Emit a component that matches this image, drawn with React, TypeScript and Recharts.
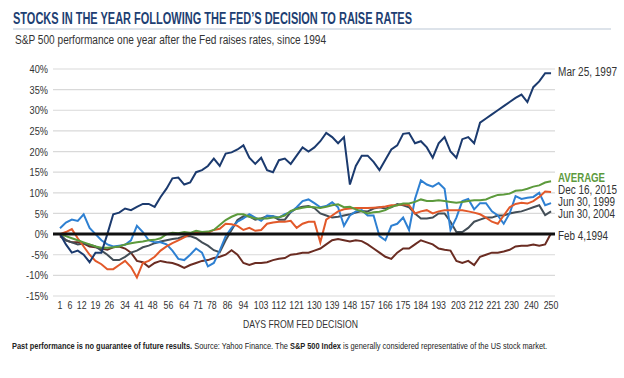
import { useLayoutEffect, useRef, useState } from 'react';
import { LineChart, Line, XAxis, YAxis, CartesianGrid, ReferenceLine } from 'recharts';

// trading days after the hike (sampled every 3 days)
const days = [1, 4, 7, 10, 13, 16, 19, 22, 25, 28, 31, 34, 37, 40, 43, 46, 49, 52, 55, 58, 61, 64, 67, 70, 73, 76, 79, 82, 85, 88, 91, 94, 97, 100, 103, 106, 109, 112, 115, 118, 121, 124, 127, 130, 133, 136, 139, 142, 145, 148, 151, 154, 157, 160, 163, 166, 169, 172, 175, 178, 181, 184, 187, 190, 193, 196, 199, 202, 205, 208, 211, 214, 217, 220, 223, 226, 229, 232, 235, 238, 241, 244, 247, 250];

const mar1997 = [0, -2.5, -4.5, -4, -5, -6.8, -4.5, -4.5, 0, 4.8, 5.2, 6.2, 5.8, 6.6, 7.3, 7.3, 6.6, 9, 11, 13.5, 13.7, 12, 12.5, 15, 15.5, 16.5, 18.3, 16.5, 19.5, 19.8, 20.5, 21.5, 18.5, 17, 18.5, 15.5, 15, 17.9, 18.3, 17, 19, 21, 20, 21, 22.5, 24.5, 23.5, 22, 23.5, 12, 16.5, 19, 19, 17.5, 15.5, 18, 20.5, 21.5, 24.3, 24.5, 22, 22.5, 21, 18.5, 22, 23.5, 20, 18.5, 23, 23.5, 22, 27, 28, 29, 30, 31, 32, 33, 33.8, 32, 35.6, 37, 39, 39];
const average = [0, -0.5, -1, -1.5, -2, -2.5, -3, -3.3, -3.3, -3.2, -3, -2.5, -2.2, -2, -1.8, -1.5, -1.4, -1, 0, 0.3, 0.2, 0.5, 0.3, 0.8, 0.5, 0.6, 1, 2.2, 3.4, 4.2, 4.8, 4.8, 4.2, 3.8, 3.8, 3.8, 4, 4.1, 4.5, 5.6, 6.1, 6.4, 6.6, 6.5, 6.3, 6.6, 7, 7.2, 6.5, 6.6, 6, 5.5, 5, 5.3, 5.4, 5.8, 6.6, 7, 7.4, 7.4, 7.8, 8.4, 8, 8, 8.2, 8, 7.8, 7.6, 7.8, 8, 8.2, 8.2, 8.4, 9, 9.5, 9.6, 9.8, 10.5, 10.6, 11, 11.5, 11.8, 12.5, 12.8];
const dec2015 = [0, 0.5, 1.2, -1, -3, -5, -6.5, -7.3, -8.5, -8.5, -7.5, -6.5, -8, -10.5, -7, -6.5, -5.5, -4, -3, -2.2, -1.5, -0.8, 0, 0.5, 0.5, 0.3, 1, 1.3, 2.5, 2.4, 2, 1, 1.5, 0.8, 1, 2.5, 2.8, 3, 3, 3.2, 1.5, 2.5, 3, 3, -2, 3.5, 4.5, 5.5, 6, 6.2, 6.3, 6.3, 6.3, 6.4, 6.5, 6.7, 7, 7, 7.2, 7, 5, 5.5, 5.8, 5, 5.5, 5.8, 5.8, 5.8, 5.8, 5.5, 5.2, 4.8, 4, 3, 2.5, 4.5, 6.5, 7.3, 7.6, 7.4, 8, 9, 10.3, 10.2];
const jun1999 = [1.4, 2.8, 3.5, 3.2, 4.8, 1.5, 0, -1.5, -2.5, -3, -2.8, -2.6, -1.5, 2, 0.5, -1.5, -2, -2, -2.5, -4, -6, -6.3, -5, -3.5, -4.5, -7.8, -7, -4, -0.5, 1.5, 3, 3.8, 4.8, 4, 3.2, 4.5, 4.3, 4, 4.8, 5.3, 6.5, 8, 8.4, 7.5, 6.5, 6.8, 7.7, 6.5, 2, 4.5, 5.5, 5.8, 4.5, 4.5, -0.5, -1.5, 2, 2.5, 4, 1, 8.5, 13, 12, 11.5, 12.4, 11, 1, 4, 8, 8.5, 6, 7.5, 7.5, 5.5, 4.5, 2.5, 5, 9.2, 8.5, 8.8, 9, 10, 7, 7.5];
const jun2004 = [0, -1.5, -2, -2.5, -2.3, -2.6, -3, -4, -5, -6.3, -6.3, -5.5, -4.5, -4, -3.2, -2.8, -2.2, -1.8, -1.5, -1.2, -1, -0.5, -0.5, -1, -2, -2.8, -3.9, -4.4, -1.5, 1, 3.4, 4.3, 4.3, 3.5, 3.8, 4.3, 4.3, 3.5, 3.5, 5.3, 6.3, 6.6, 6.8, 6.3, 5, 4.5, 4, 4.2, 4.5, 4.8, 5.2, 5.6, 5.5, 6.2, 6.5, 6.2, 6.5, 7.3, 7, 6.5, 5, 3.8, 3.8, 4, 5, 5, 3, 0.5, 0.5, 1.5, 3, 3.5, 4, 4, 4.5, 4.5, 5, 5.3, 5.5, 6, 6.5, 7, 4.6, 5.5];
const feb1994 = [-0.5, -1.5, -2, -2, -2.3, -3, -3.2, -3.5, -3.8, -3.2, -3, -3.5, -4.5, -6.5, -6.8, -8, -7, -6.5, -6.8, -7, -7.5, -8.2, -7.5, -7, -6.5, -6.3, -5.8, -5.5, -5, -3.9, -5, -7, -7.5, -7, -7, -6.8, -6.3, -6, -5.8, -5, -4.8, -4.5, -4.5, -4, -3.5, -2.5, -1.5, -1.2, -1.5, -1.8, -1.5, -1.7, -2.5, -3.5, -4.5, -5.5, -6, -4.5, -3.5, -3.5, -2.5, -1.5, -2, -2.5, -3.5, -3.8, -4, -6.5, -7, -6.5, -7.5, -5.5, -5, -4.5, -4.5, -4.2, -3.8, -3, -2.8, -2.8, -2.5, -2.8, -2.5, 0.2];

const xTicks = [1, 6, 12, 19, 26, 34, 41, 48, 56, 64, 71, 78, 86, 94, 103, 112, 121, 130, 139, 148, 157, 166, 175, 184, 193, 203, 212, 221, 230, 240, 250];
const yTicks = [-15, -10, -5, 0, 5, 10, 15, 20, 25, 30, 35, 40];

const rows = days.map((day, i) => ({
  day,
  mar1997: mar1997[i],
  average: average[i],
  dec2015: dec2015[i],
  jun1999: jun1999[i],
  jun2004: jun2004[i],
  feb1994: feb1994[i],
}));

const FONT = "'Liberation Sans', Arial, sans-serif";

const series = [
  { key: 'feb1994', name: 'Feb 4,1994', color: '#6a2c22', dy: 3, bold: false, len: 50 },
  { key: 'jun2004', name: 'Jun 30, 2004', color: '#434e57', dy: 2, bold: false, len: 57 },
  { key: 'jun1999', name: 'Jun 30, 1999', color: '#2e80d2', dy: -1, bold: false, len: 57 },
  { key: 'dec2015', name: 'Dec 16, 2015', color: '#e2592a', dy: -2, bold: false, len: 59 },
  { key: 'average', name: 'AVERAGE', color: '#5c9a3c', dy: -3, bold: true, len: 47 },
  { key: 'mar1997', name: 'Mar 25, 1997', color: '#1b3a6e', dy: -1, bold: false, len: 59 },
];

const endLabel = (s: typeof series[number]) => (props: any) => {
  const { cx, cy, index } = props;
  if (index !== days.length - 1) return <g key={`d-${s.key}-${index}`} />;
  return (
    <text
      key={`d-${s.key}-${index}`}
      x={cx + 7}
      y={cy + s.dy}
      dy="0.35em"
      fontFamily={FONT}
      fontSize={12}
      fontWeight={s.bold ? 700 : 400}
      fill={s.bold ? s.color : '#333'}
      textLength={s.len}
      lengthAdjust="spacingAndGlyphs"
    >
      {s.name}
    </text>
  );
};

// narrow tick labels like the original condensed font
const XTick = (props: any) => {
  const { x, y, payload } = props;
  const label = String(payload.value);
  return (
    <text x={x} y={y} dy="0.71em" textAnchor="middle" fontFamily={FONT} fontSize={10.5} fill="#333"
      textLength={label.length * 4.9} lengthAdjust="spacingAndGlyphs">
      {label}
    </text>
  );
};

const YTick = (props: any) => {
  const { x, y, payload } = props;
  const label = `${payload.value}%`;
  let len = 0;
  for (const c of label) len += c === '%' ? 8 : c === '-' ? 3.5 : 5.2;
  return (
    <text x={x} y={y} dy="0.355em" textAnchor="end" fontFamily={FONT} fontSize={11.5} fill="#333"
      textLength={len} lengthAdjust="spacingAndGlyphs">
      {label}
    </text>
  );
};

// squeezes one line of html text to a given width (the source uses a condensed face)
function FitLine({ width, left, top, fontSize, children }: any) {
  const ref = useRef<HTMLDivElement>(null);
  const [k, setK] = useState(1);
  useLayoutEffect(() => {
    if (ref.current) setK(width / ref.current.scrollWidth);
  }, [width]);
  return (
    <div
      ref={ref}
      style={{
        position: 'absolute', left, top, width: 'max-content', whiteSpace: 'nowrap',
        fontFamily: FONT, fontSize, lineHeight: 1, color: '#222',
        transform: `scaleX(${k})`, transformOrigin: 'left top',
      }}
    >
      {children}
    </div>
  );
}

export default function App() {
  return (
    <div style={{ position: 'absolute', left: 0, top: 0, width: 624, height: 378, background: '#fff' }}>
      <LineChart width={624} height={378} data={rows} margin={{ top: 69, right: 69, bottom: 52, left: 0 }}>
        <CartesianGrid vertical={false} stroke="#d9d9d9" strokeWidth={1.2} />
        <XAxis
          dataKey="day"
          type="number"
          domain={[-2.55, 252]}
          ticks={xTicks}
          interval={0}
          axisLine={false}
          tickLine={false}
          tickSize={0}
          tickMargin={6}
          height={30}
          tick={<XTick />}
        />
        <YAxis
          type="number"
          domain={[-15, 40]}
          ticks={yTicks}
          interval={0}
          width={53}
          axisLine={false}
          tickLine={false}
          tickSize={0}
          tickMargin={5}
          tick={<YTick />}
        />
        {series.map((s) => (
          <Line
            key={s.key}
            dataKey={s.key}
            type="linear"
            stroke={s.color}
            strokeWidth={2}
            dot={endLabel(s)}
            activeDot={false}
            isAnimationActive={false}
          />
        ))}
        <ReferenceLine y={0} stroke="#111" strokeWidth={3} />
      </LineChart>
      <svg width={624} height={378} style={{ position: 'absolute', left: 0, top: 0, pointerEvents: 'none' }}>
        <text x={13} y={23.5} fontFamily={FONT} fontSize={16} fontWeight={700} fill="#1e3f73" textLength={399} lengthAdjust="spacingAndGlyphs">
          STOCKS IN THE YEAR FOLLOWING THE FED’S DECISION TO RAISE RATES
        </text>
        <line x1={13} x2={611} y1={29} y2={29} stroke="#dde3ea" strokeWidth={2} />
        <text x={15} y={44} fontFamily={FONT} fontSize={12} fill="#333" textLength={311} lengthAdjust="spacingAndGlyphs">
          S&amp;P 500 performance one year after the Fed raises rates, since 1994
        </text>
        <text x={243} y={327.5} fontFamily={FONT} fontSize={11} fill="#333" textLength={115} lengthAdjust="spacingAndGlyphs">
          DAYS FROM FED DECISION
        </text>
      </svg>
      <FitLine width={535} left={12} top={341} fontSize={9.5}>
        <b>Past performance is no guarantee of future results.</b> Source: Yahoo Finance. The{' '}
        <b>S&amp;P 500 Index</b> is generally considered representative of the US stock market.
      </FitLine>
    </div>
  );
}
